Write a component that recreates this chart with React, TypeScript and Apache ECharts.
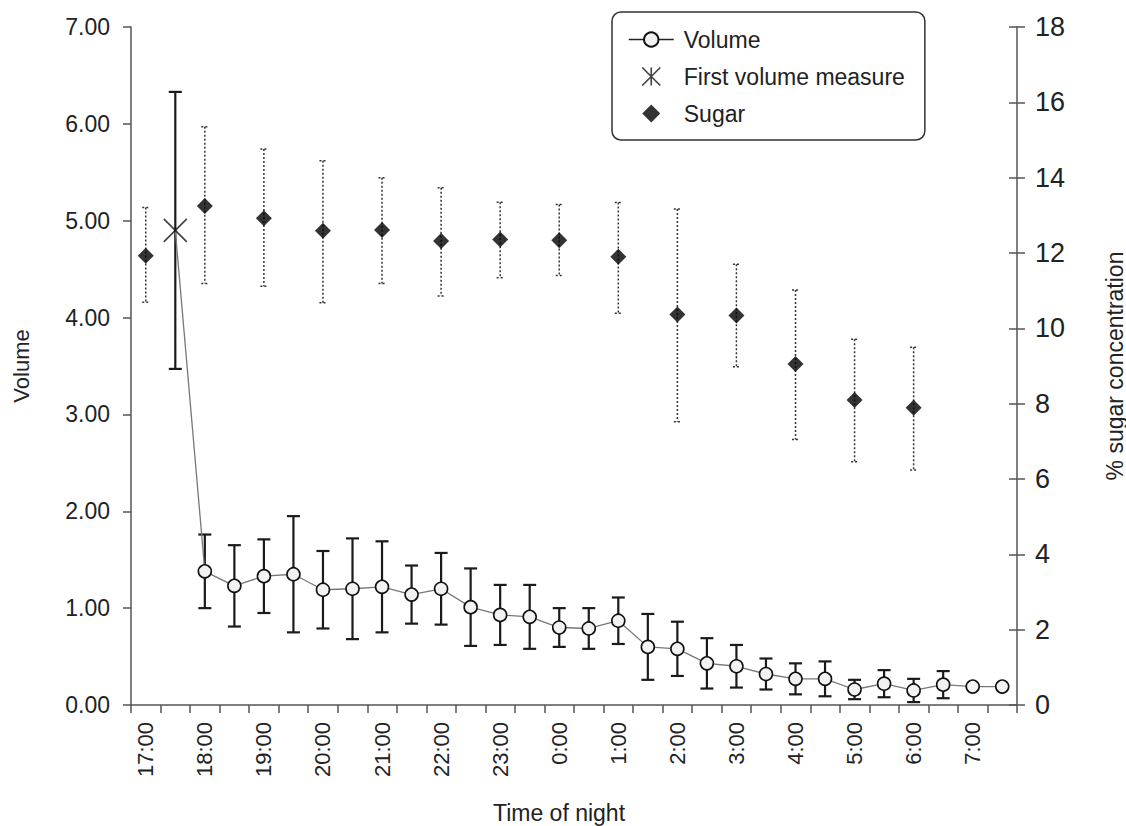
import React, { useEffect, useRef } from "react";
import * as echarts from "echarts";

// ---- data ----
const categories = [
  "17:00", "17:30", "18:00", "18:30", "19:00", "19:30", "20:00", "20:30",
  "21:00", "21:30", "22:00", "22:30", "23:00", "23:30", "0:00", "0:30",
  "1:00", "1:30", "2:00", "2:30", "3:00", "3:30", "4:00", "4:30",
  "5:00", "5:30", "6:00", "6:30", "7:00", "7:30",
];

const volumeMean = [
  null, null, 1.38, 1.23, 1.33, 1.35, 1.19, 1.2, 1.22, 1.14, 1.2, 1.01, 0.93, 0.91, 0.8,
  0.79, 0.87, 0.6, 0.58, 0.43, 0.4, 0.32, 0.27, 0.27, 0.16, 0.22, 0.15, 0.21, 0.19, 0.19,
];
const volumeErr = [
  null, null, 0.38, 0.42, 0.38, 0.6, 0.4, 0.52, 0.47, 0.3, 0.37, 0.4, 0.31, 0.33, 0.2,
  0.21, 0.24, 0.34, 0.28, 0.26, 0.22, 0.16, 0.16, 0.18, 0.1, 0.14, 0.12, 0.14, null, null,
];

const firstVolumeTime = "17:30";
const firstVolume = 4.9;
const firstVolumeErr = 1.43;

const sugarTimes = [
  "17:00", "18:00", "19:00", "20:00", "21:00", "22:00", "23:00",
  "0:00", "1:00", "2:00", "3:00", "4:00", "5:00", "6:00",
];
const sugarMean = [11.93, 13.25, 12.92, 12.59, 12.61, 12.32, 12.36, 12.34, 11.9, 10.37, 10.34, 9.05, 8.1, 7.89];
const sugarHigh = [13.21, 15.35, 14.76, 14.45, 14.0, 13.73, 13.35, 13.29, 13.34, 13.17, 11.7, 11.02, 9.71, 9.5];
const sugarLow = [10.69, 11.19, 11.12, 10.68, 11.19, 10.86, 11.34, 11.4, 10.4, 7.52, 8.98, 7.05, 6.46, 6.24];

const volumeTicks = { min: 0, max: 7, interval: 1 };
const sugarTicks = { min: 0, max: 18, interval: 2 };

const FONT = "'Liberation Sans', Arial, Helvetica, sans-serif";
const AXIS_COLOR = "#555";
const TEXT_COLOR = "#222";

const makeErrorRender = (half: number, style: any) => (params: any, api: any) => {
  const xi = api.value(0);
  const lo = api.value(1);
  const hi = api.value(2);
  const p1 = api.coord([xi, hi]);
  const p2 = api.coord([xi, lo]);
  return {
    type: "group",
    children: [
      { type: "line", shape: { x1: p1[0], y1: p1[1], x2: p2[0], y2: p2[1] }, style },
      { type: "line", shape: { x1: p1[0] - half, y1: p1[1], x2: p1[0] + half, y2: p1[1] }, style },
      { type: "line", shape: { x1: p2[0] - half, y1: p2[1], x2: p2[0] + half, y2: p2[1] }, style },
    ],
  };
};

export default function App() {
  const ref = useRef<HTMLDivElement>(null);

  useEffect(() => {
    if (!ref.current) return;
    const chart = echarts.init(ref.current, null, { renderer: "svg" });
    const firstIdx = categories.indexOf(firstVolumeTime);

    const volumeLineData = categories.map((c, i) =>
      i === firstIdx ? { value: firstVolume, symbol: "none" } : volumeMean[i] == null ? "-" : volumeMean[i]
    );
    const volumeErrData: number[][] = [[firstIdx, firstVolume - firstVolumeErr, firstVolume + firstVolumeErr]];
    categories.forEach((c, i) => {
      const m = volumeMean[i];
      const e = volumeErr[i];
      if (m != null && e != null) volumeErrData.push([i, m - e, m + e]);
    });
    const sugarData = sugarTimes.map((t, i) => [categories.indexOf(t), sugarMean[i]]);
    const sugarErrData = sugarTimes.map((t, i) => [categories.indexOf(t), sugarLow[i], sugarHigh[i]]);

    const xPath = "path://M0,0L10,10M10,0L0,10";
    const asteriskPath = "path://M0,0L14,14M14,0L0,14M7,0L7,14";
    const diamondPath = "path://M8,0L16,8L8,16L0,8Z";

    chart.setOption({
      animation: false,
      textStyle: { fontFamily: FONT },
      grid: {
        left: 131,
        right: 109,
        top: 27,
        bottom: 121,
        containLabel: false,
        outerBoundsMode: "none",
      },
      legend: {
        orient: "vertical",
        left: 612,
        top: 12,
        padding: [16, 20, 15, 16],
        itemWidth: 45,
        itemHeight: 18,
        itemGap: 14,
        borderColor: "#333",
        borderWidth: 1.5,
        borderRadius: 9,
        backgroundColor: "#fff",
        textStyle: { fontSize: 23, color: TEXT_COLOR, fontFamily: FONT, lineHeight: 23, padding: [0, 0, 0, 5] },
        data: [
          { name: "Volume", lineStyle: { color: "#222", width: 1.5 } },
          {
            name: "First volume measure",
            icon: asteriskPath,
            itemStyle: { color: "transparent", borderColor: "#111", borderWidth: 1.6 },
          },
          { name: "Sugar", icon: diamondPath, itemStyle: { color: "#000" } },
        ],
      },
      xAxis: {
        type: "category",
        data: categories,
        boundaryGap: true,
        name: "Time of night",
        nameLocation: "middle",
        nameGap: 96,
        nameTextStyle: { fontSize: 23, color: TEXT_COLOR, fontFamily: FONT, padding: [0, 30, 0, 0] },
        axisLine: { lineStyle: { color: AXIS_COLOR, width: 1.5 } },
        axisTick: { show: true, interval: 0, length: 8, lineStyle: { color: AXIS_COLOR, width: 1.5 } },
        axisLabel: {
          rotate: 90,
          margin: 17,
          fontSize: 22,
          color: TEXT_COLOR,
          fontFamily: FONT,
          interval: (index: number, value: string) => value.endsWith(":00"),
        },
        splitLine: { show: false },
      },
      yAxis: [
        {
          type: "value",
          position: "left",
          min: volumeTicks.min,
          max: volumeTicks.max,
          interval: volumeTicks.interval,
          name: "Volume",
          nameLocation: "middle",
          nameGap: 99,
          nameTextStyle: { fontSize: 22, color: TEXT_COLOR, fontFamily: FONT },
          axisLine: { show: true, lineStyle: { color: AXIS_COLOR, width: 1.5 } },
          axisTick: { show: true, length: 8, lineStyle: { color: AXIS_COLOR, width: 1.5 } },
          axisLabel: {
            margin: 21,
            fontSize: 23,
            color: TEXT_COLOR,
            fontFamily: FONT,
            formatter: (v: number) => v.toFixed(2),
          },
          splitLine: { show: false },
        },
        {
          type: "value",
          position: "right",
          min: sugarTicks.min,
          max: sugarTicks.max,
          interval: sugarTicks.interval,
          name: "% sugar concentration",
          nameLocation: "middle",
          nameGap: 86,
          nameTextStyle: { fontSize: 23, color: TEXT_COLOR, fontFamily: FONT, padding: [0, 0, 16, 0] },
          axisLine: { show: true, lineStyle: { color: AXIS_COLOR, width: 1.5 } },
          axisTick: { show: true, length: 8, lineStyle: { color: AXIS_COLOR, width: 1.5 } },
          axisLabel: { margin: 18, fontSize: 27, color: TEXT_COLOR, fontFamily: FONT },
          splitLine: { show: false },
        },
        {
          type: "value",
          position: "right",
          min: sugarTicks.min,
          max: sugarTicks.max,
          interval: sugarTicks.interval,
          axisLine: { show: false },
          axisTick: { show: true, inside: true, length: 8, lineStyle: { color: AXIS_COLOR, width: 1.5 } },
          axisLabel: { show: false },
          splitLine: { show: false },
        },
      ],
      series: [
        {
          name: "Volume error",
          type: "custom",
          xAxisIndex: 0,
          yAxisIndex: 0,
          z: 2,
          renderItem: makeErrorRender(6.5, { stroke: "#1a1a1a", lineWidth: 2.2 }),
          encode: { x: 0, y: [1, 2] },
          data: volumeErrData,
          silent: true,
        },
        {
          name: "Sugar error",
          type: "custom",
          xAxisIndex: 0,
          yAxisIndex: 1,
          z: 2,
          renderItem: makeErrorRender(3.5, { stroke: "#333", lineWidth: 1.5, lineDash: [2, 2] }),
          encode: { x: 0, y: [1, 2] },
          data: sugarErrData,
          silent: true,
        },
        {
          name: "Volume",
          type: "line",
          yAxisIndex: 0,
          z: 3,
          data: volumeLineData,
          symbol: "circle",
          symbolSize: 13,
          showAllSymbol: true,
          lineStyle: { color: "#777", width: 1.3 },
          itemStyle: { color: "#f2f2f2", borderColor: "#111", borderWidth: 1.6 },
          connectNulls: false,
        },
        {
          name: "First volume measure",
          type: "scatter",
          yAxisIndex: 0,
          z: 4,
          data: [[firstIdx, firstVolume]],
          symbol: xPath,
          symbolSize: 23,
          itemStyle: { color: "transparent", borderColor: "#111", borderWidth: 1.6 },
        },
        {
          name: "Sugar",
          type: "scatter",
          yAxisIndex: 1,
          z: 4,
          data: sugarData,
          symbol: "diamond",
          symbolSize: 16,
          itemStyle: { color: "#000" },
        },
      ],
    });

    return () => chart.dispose();
  }, []);

  return (
    <div
      ref={ref}
      style={{ position: "absolute", left: 0, top: 0, width: 1126, height: 826, background: "#fff" }}
    />
  );
}
